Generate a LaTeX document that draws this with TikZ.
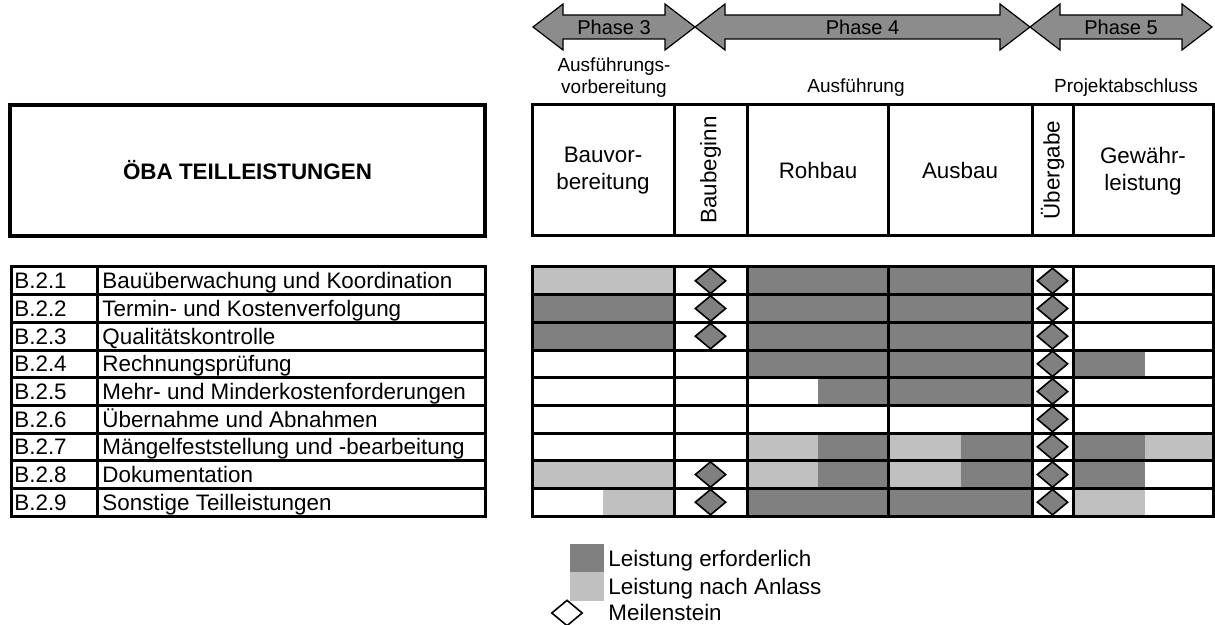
\documentclass[tikz,border=0pt]{standalone}
\usepackage{fontspec}
\setmainfont{Liberation Sans}
\usetikzlibrary{shapes.geometric}
\definecolor{erforderlich}{gray}{0.5}
\definecolor{anlass}{gray}{0.753}
\definecolor{phasegray}{gray}{0.55}
\tikzset{
x=0.5pt, y=-0.5pt, % one unit is one pixel, y runs downwards
grid/.style={line width=1.5pt, line cap=rect}, % black table lines
phase/.style={draw, fill=phasegray, line width=0.6pt},
txt/.style={font=\fontsize{11.2pt}{13.6pt}\selectfont, inner sep=0pt},
phasetext/.style={font=\fontsize{10pt}{12pt}\selectfont, inner sep=0pt},
sub/.style={font=\fontsize{9.5pt}{10pt}\selectfont, inner sep=0pt, align=center},
milestone/.style={diamond, draw, line width=0.8pt, fill=erforderlich, minimum width=15.5pt, minimum height=13pt, inner sep=0pt},
}
% double arrow of a phase: left x, right x, name, text
\newcommand{\phasearrow}[4]{
  \draw[phase] (#1,27) -- (#1+30,4) -- (#1+30,15) -- (#2-30,15) -- (#2-30,4) -- (#2,27)
    -- (#2-30,50) -- (#2-30,39) -- (#1+30,39) -- (#1+30,50) -- cycle;
  \node[phasetext] (#3) at ({(#1+#2)/2},27) {#4};
}
% filled part of a row: from x, to x, row, colour
\newcommand{\leistung}[4]{
  \fill[#4] (#1,{267+(#3-1)*27.67}) rectangle (#2,{267+#3*27.67});
}

\begin{document}
\begin{tikzpicture}
    \useasboundingbox (0,0) rectangle (1215,625);

    % phases
    \phasearrow{533}{695}{ph3}{Phase 3}
    \phasearrow{695}{1030}{ph4}{Phase 4}
    \phasearrow{1030}{1212}{ph5}{Phase 5}
    \node[sub] (avb) at (614,78) {Ausführungs-\\[1pt]vorbereitung};
    \node[sub] (afg) at (856,88) {Ausführung};
    \node[sub] (pab) at (1126,88) {Projektabschluss};

    % header
    \draw[line width=2.2pt] (10,105) rectangle (485,236);
    \node[txt, font=\fontsize{11.2pt}{13.6pt}\selectfont\bfseries] (title) at (247.5,170) {ÖBA TEILLEISTUNGEN};
    \draw[grid] (532,105) rectangle (1213,236);
    \foreach \x in {674,747,888,1032,1073}
        \draw[grid] (\x,105) -- (\x,236);
    \node[txt, align=center] (bvb) at (603,171) {Bauvor-\\bereitung};
    \node[txt, rotate=90] (bbg) at (710.5,170) {Baubeginn};
    \node[txt] (rb) at (818,170) {Rohbau};
    \node[txt] (ab) at (960,170) {Ausbau};
    \node[txt, rotate=90] (ubg) at (1052.5,170) {Übergabe};
    \node[txt, align=center] (gwl) at (1143,171) {Gewähr-\\leistung};

    % Leistung erforderlich / nach Anlass
    \leistung{532}{674}{1}{anlass}
    \leistung{747}{1032}{1}{erforderlich}
    \leistung{532}{674}{2}{erforderlich}
    \leistung{747}{1032}{2}{erforderlich}
    \leistung{532}{674}{3}{erforderlich}
    \leistung{747}{1032}{3}{erforderlich}
    \leistung{747}{1032}{4}{erforderlich}
    \leistung{1073}{1145}{4}{erforderlich}
    \leistung{818}{1032}{5}{erforderlich}
    \leistung{747}{818}{7}{anlass}
    \leistung{818}{888}{7}{erforderlich}
    \leistung{888}{961}{7}{anlass}
    \leistung{961}{1032}{7}{erforderlich}
    \leistung{1073}{1145}{7}{erforderlich}
    \leistung{1145}{1213}{7}{anlass}
    \leistung{532}{674}{8}{anlass}
    \leistung{747}{818}{8}{anlass}
    \leistung{818}{888}{8}{erforderlich}
    \leistung{888}{961}{8}{anlass}
    \leistung{961}{1032}{8}{erforderlich}
    \leistung{1073}{1145}{8}{erforderlich}
    \leistung{603}{674}{9}{anlass}
    \leistung{747}{1032}{9}{erforderlich}
    \leistung{1073}{1145}{9}{anlass}

    % table lines
    \foreach \i in {0,...,9} {
        \draw[grid] (11,{267+\i*27.67}) -- (485,{267+\i*27.67});
        \draw[grid] (532,{267+\i*27.67}) -- (1213,{267+\i*27.67});
    }
    \foreach \x in {11,97,485,532,674,747,888,1032,1073,1213}
        \draw[grid] (\x,267) -- (\x,516);

    % Teilleistungen
    \foreach \code/\task [count=\i] in {B.2.1/Bauüberwachung und Koordination,
        B.2.2/Termin- und Kostenverfolgung, B.2.3/Qualitätskontrolle,
        B.2.4/Rechnungsprüfung, B.2.5/Mehr- und Minderkostenforderungen,
        B.2.6/Übernahme und Abnahmen, B.2.7/Mängelfeststellung und -bearbeitung,
        B.2.8/Dokumentation, B.2.9/Sonstige Teilleistungen} {
        \node[txt, anchor=base west] (code\i) at (14,{267+(\i-0.5)*27.67+8}) {\code};
        \node[txt, anchor=base west] (task\i) at (102,{267+(\i-0.5)*27.67+8}) {\task};
    }

    % Meilensteine
    \foreach \i in {1,2,3,8,9}
        \node[milestone] (bb\i) at (710.5,{267+(\i-0.5)*27.67}) {};
    \foreach \i in {1,...,9}
        \node[milestone] (ug\i) at (1052.5,{267+(\i-0.5)*27.67}) {};

    % legend
    \fill[erforderlich] (570,544) rectangle (604,572);
    \fill[anlass] (570,572) rectangle (604,601);
    \node[milestone, fill=white] (lms) at (567,613) {};
    \node[txt, anchor=base west] (lerf) at (608,566) {Leistung erforderlich};
    \node[txt, anchor=base west] (lanl) at (608,594) {Leistung nach Anlass};
    \node[txt, anchor=base west] (lmei) at (608,620) {Meilenstein};
\end{tikzpicture}
\end{document}
